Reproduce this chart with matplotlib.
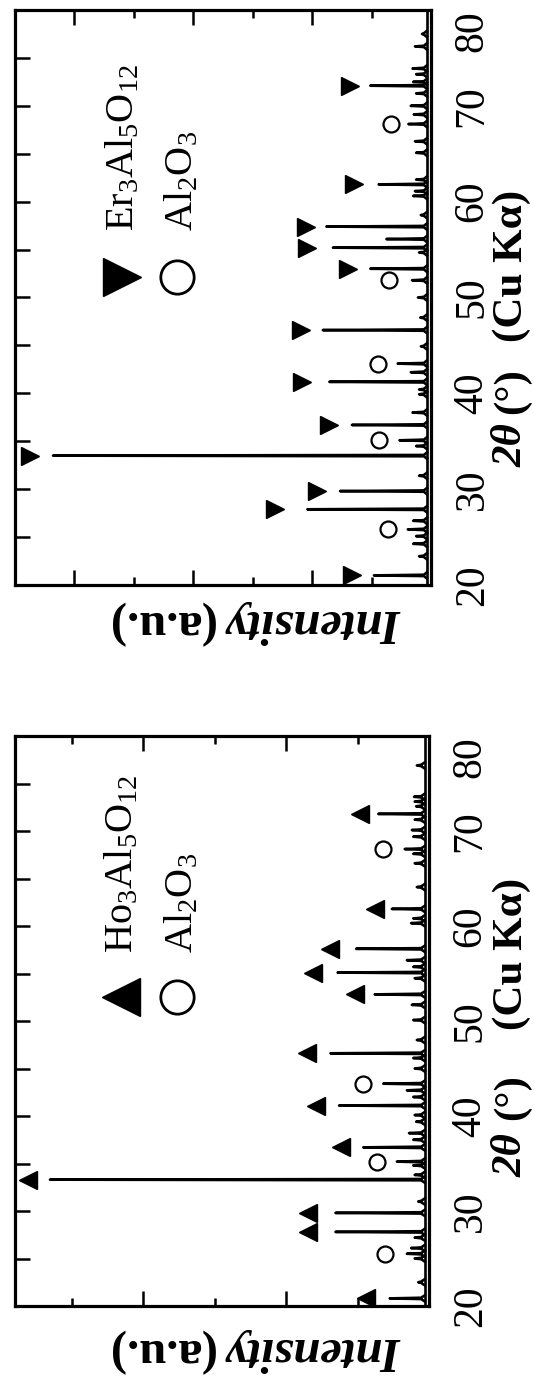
import matplotlib
matplotlib.use('Agg')
import matplotlib.pyplot as plt
from matplotlib.ticker import MultipleLocator

plt.rcParams['font.family'] = ['Liberation Serif', 'DejaVu Serif']
plt.rcParams['mathtext.fontset'] = 'custom'
plt.rcParams['mathtext.rm'] = 'Liberation Serif'
plt.rcParams['mathtext.it'] = 'Liberation Serif:italic'
plt.rcParams['mathtext.bf'] = 'Liberation Serif:bold'

# ---------------- data (2theta in degrees, intensity in a.u.) ----------------
# Er3Al5O12 sample (upper panel)
er_pos = [21.0, 27.9, 29.8, 33.5, 36.7, 41.2, 46.6, 53.0, 55.2, 57.4, 61.8, 72.1]
er_height = [0.96, 2.08, 1.53, 6.36, 1.33, 1.71, 1.82, 1.02, 1.65, 1.76, 0.88, 1.02]
er_mark = [1.33, 2.63, 1.91, 6.75, 1.71, 2.17, 2.19, 1.39, 2.08, 2.11, 1.30, 1.36]
er_al_pos = [25.8, 35.1, 43.1, 51.8, 68.1]
er_al_height = [0.39, 0.53, 0.56, 0.32, 0.38]
er_al_mark = [0.72, 0.88, 0.89, 0.70, 0.68]
er_minor_pos = [23.0, 24.3, 25.1, 26.7, 31.4, 34.5, 38.0, 39.9, 40.4, 42.2, 44.9, 47.9,
                50.0, 54.7, 56.1, 58.6, 60.6, 61.1, 62.3, 65.1, 66.3, 69.1, 70.0, 71.3,
                72.5, 73.3, 73.9, 76.2, 77.5]
er_minor_height = [0.20, 0.30, 0.25, 0.30, 0.20, 0.25, 0.31, 0.20, 0.20, 0.34, 0.17, 0.18,
                   0.22, 0.20, 0.75, 0.17, 0.30, 0.27, 0.25, 0.25, 0.27, 0.29, 0.34, 0.25,
                   0.30, 0.25, 0.31, 0.27, 0.15]
er_background = 0.07

# Ho3Al5O12 sample (lower panel)
ho_pos = [20.8, 27.8, 29.8, 33.3, 36.7, 41.1, 46.6, 52.8, 55.1, 57.6, 61.8, 71.8]
ho_height = [0.55, 1.31, 1.31, 5.31, 0.92, 1.26, 1.38, 0.76, 1.28, 1.02, 0.52, 0.71]
ho_mark = [0.88, 1.69, 1.69, 5.62, 1.23, 1.59, 1.71, 1.04, 1.62, 1.38, 0.76, 0.97]
ho_al_pos = [25.5, 35.2, 43.4, 68.1]
ho_al_height = [0.31, 0.45, 0.64, 0.34]
ho_al_mark = [0.62, 0.73, 0.92, 0.64]
ho_minor_pos = [22.5, 25.0, 26.1, 27.2, 31.0, 33.8, 34.8, 37.5, 38.2, 39.4, 40.1, 42.0,
                42.7, 45.0, 46.1, 48.0, 50.1, 51.7, 54.5, 55.7, 56.4, 60.3, 60.8, 64.1,
                66.6, 67.6, 69.4, 70.1, 71.2, 72.6, 73.1, 73.6, 76.9]
ho_minor_height = [0.15, 0.20, 0.25, 0.20, 0.15, 0.20, 0.22, 0.22, 0.28, 0.18, 0.20, 0.22,
                   0.31, 0.20, 0.22, 0.17, 0.22, 0.24, 0.20, 0.22, 0.31, 0.25, 0.22, 0.17,
                   0.20, 0.22, 0.22, 0.24, 0.20, 0.18, 0.20, 0.21, 0.17]
ho_background = 0.06

theta_ticks = [20, 30, 40, 50, 60, 70, 80]

W, H = 534, 1381
fig = plt.figure(figsize=(W / 100, H / 100), dpi=100)


def rect(l, r, t, b):
    return [l / W, 1 - b / H, (r - l) / W, (b - t) / H]


def ftext(x, y, s, **kw):
    return fig.text(x / W, 1 - y / H, s, **kw)


def draw_panel(ax, imax, bg, pos, hgt, mark, apos, ahgt, amark, mpos, mhgt, tri):
    ax.set_xlim(imax, 0)
    ax.set_ylim(20, 80)
    lw = 1.9
    ax.plot([bg, bg], [20, 80], color='k', lw=lw, solid_capstyle='butt')
    for p, h in zip(list(pos) + list(apos) + list(mpos), list(hgt) + list(ahgt) + list(mhgt)):
        ax.plot([bg, bg + 0.05, h, bg + 0.05, bg],
                [p - 0.32, p - 0.07, p, p + 0.07, p + 0.32],
                color='k', lw=lw, solid_joinstyle='round')
    ax.plot(mark, pos, linestyle='none', marker=tri, color='k', markersize=13)
    ax.plot(amark, apos, linestyle='none', marker='o', mfc='white', mec='k',
            mew=1.6, markersize=11.5)

    for s in ax.spines.values():
        s.set_linewidth(2.3)
    ax.xaxis.set_major_locator(MultipleLocator(2))
    ax.xaxis.set_minor_locator(MultipleLocator(1))
    ax.tick_params(axis='x', which='both', direction='in', top=True, bottom=True,
                   labelbottom=False, labeltop=False, width=1.8)
    ax.tick_params(axis='x', which='major', length=11)
    ax.tick_params(axis='x', which='minor', length=6)
    ax.set_yticks(theta_ticks)
    ax.yaxis.set_minor_locator(MultipleLocator(5))
    ax.tick_params(axis='y', which='both', direction='in', left=True, right=False,
                   labelleft=False, labelright=True, length=11, width=1.8)
    ax.tick_params(axis='y', which='major', labelsize=30, pad=16)
    for t in ax.yaxis.get_major_ticks():
        t.label2.set_rotation(90)
        t.label2.set_va('center')
    ax.yaxis.get_major_ticks()[-1].label2.set_va('top')


# ---------------- upper panel: Er3Al5O12 ----------------
ax1 = fig.add_axes(rect(15, 431, 10, 585))
draw_panel(ax1, 7.0, er_background, er_pos, er_height, er_mark,
           er_al_pos, er_al_height, er_al_mark, er_minor_pos, er_minor_height, '>')

# ---------------- lower panel: Ho3Al5O12 ----------------
ax2 = fig.add_axes(rect(15, 429, 736, 1306))
draw_panel(ax2, 5.8, ho_background, ho_pos, ho_height, ho_mark,
           ho_al_pos, ho_al_height, ho_al_mark, ho_minor_pos, ho_minor_height, '<')

# legends (drawn by hand, rotated like the rest of the figure)
for ax, lbl, tri, (tx, ty), (cx, cy), ytxt in [
        (ax1, r'Er$_3$Al$_5$O$_{12}$', '>', (122, 277), (177, 277), 231),
        (ax2, r'Ho$_3$Al$_5$O$_{12}$', '<', (121, 997), (177, 997), 953)]:
    fig.lines.append(plt.Line2D([tx / W], [1 - ty / H], transform=fig.transFigure,
                                marker=tri, color='k', markersize=28, linestyle='none'))
    fig.lines.append(plt.Line2D([cx / W], [1 - cy / H], transform=fig.transFigure,
                                marker='o', mfc='white', mec='k', mew=2.0,
                                markersize=24, linestyle='none'))
    ftext(tx + 1, ytxt, lbl, rotation=90, ha='center', va='bottom', fontsize=29)
    ftext(cx + 5, ytxt, r'Al$_2$O$_3$', rotation=90, ha='center', va='bottom', fontsize=29)

# axis labels
for (y2t, yo, ycu, yint) in [(467, 414, 342, 622), (1177, 1120, 1030, 1350)]:
    ftext(512, y2t, '2θ', rotation=90, ha='center', va='bottom', fontsize=31,
          fontweight='bold', fontstyle='italic')
    ftext(512, yo, '(°)', rotation=90, ha='center', va='bottom', fontsize=31,
          fontweight='bold')
    ftext(512, ycu, '(Cu Kα)', rotation=90, ha='center', va='bottom', fontsize=31,
          fontweight='bold')
    ftext(226, yint, 'Intensity', rotation=180, ha='left', va='center', fontsize=35,
          fontweight='bold', fontstyle='italic')
    ftext(214, yint, '(a.u.)', rotation=180, ha='right', va='center', fontsize=35,
          fontweight='bold')

fig.savefig('out.png', dpi=100)
